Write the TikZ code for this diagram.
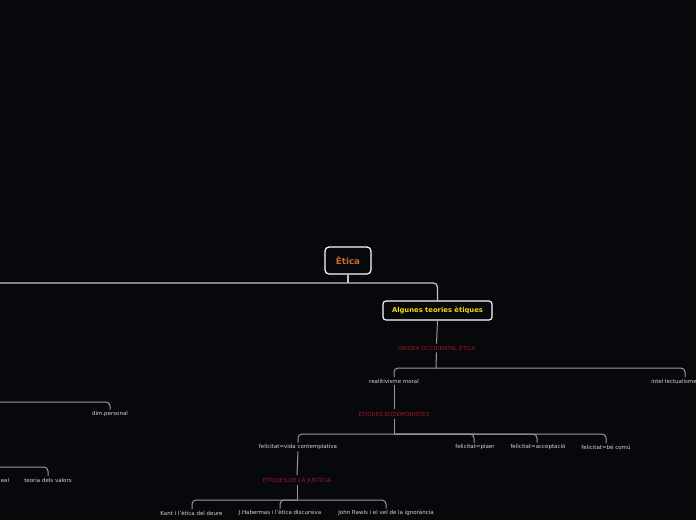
\documentclass[tikz,border=0pt]{standalone}
\usepackage{fontspec}
\setmainfont{DejaVu Sans}
\definecolor{bg}{HTML}{07080B}
\definecolor{rootorange}{HTML}{CF6A2C}
\definecolor{mainyellow}{HTML}{F2D813}
\definecolor{redlbl}{HTML}{A3172B}
\definecolor{lbl}{HTML}{D6D6D6}
\definecolor{mainline}{HTML}{C4C4C4}
\definecolor{subline}{HTML}{9A9A9A}
\tikzset{
  rootbox/.style={draw=white, line width=1.2pt, rounded corners=4pt, fill=bg,
    minimum width=46pt, minimum height=27pt, inner sep=0pt,
    text=rootorange, font=\fontsize{8.7}{10}\selectfont\bfseries},
  mainbox/.style={draw=white, line width=1.1pt, rounded corners=3pt, fill=bg,
    minimum width=109pt, minimum height=19pt, inner sep=0pt,
    text=mainyellow, font=\fontsize{6.8}{8}\selectfont\bfseries},
  redtxt/.style={text=redlbl, font=\fontsize{5.6}{7}\selectfont, inner sep=1.5pt},
  leaf/.style={text=lbl, font=\fontsize{5.5}{7}\selectfont, inner sep=1.5pt},
  mainconn/.style={draw=mainline, line width=1.2pt, rounded corners=4pt},
  subconn/.style={draw=subline, line width=1pt, rounded corners=4pt},
}
\begin{document}
\begin{tikzpicture}[x=1pt, y=-1pt]
\useasboundingbox[fill=bg] (0,0) rectangle (696,520);

% nodes
\node[rootbox] (root) at (348,260.5) {Ètica};
\node[mainbox] (alg) at (437.5,310.5) {Algunes teories ètiques};
\node[redtxt] (origen) at (436.5,348) {ORIGEN OCCIDENTAL ÈTICA};
\node[leaf] (realit) at (394,381) {realitivisme moral};
\node[leaf] (intel) at (674,381) {intel·lectualisme};
\node[redtxt] (eud) at (394,414) {ÈTIQUES EUDEMONISTES};
\node[leaf] (vida) at (298,447) {felicitat=vida contemplativa};
\node[leaf] (plaer) at (475,447) {felicitat=plaer};
\node[leaf] (accept) at (538,447) {felicitat=acceptació};
\node[leaf] (bec) at (606,447) {felicitat=bé comú};
\node[redtxt] (just) at (297,480) {ÈTIQUES DE LA JUSTÍCIA};
\node[leaf] (kant) at (191.5,513) {Kant i l'ètica del deure};
\node[leaf] (haber) at (280,513) {J.Habermas i l'ètica discursiva};
\node[leaf] (rawls) at (386,513) {John Rawls i el vel de la ignorància};
\node[leaf] (dim) at (110,414) {dim.personal};
\node[leaf] (teoria) at (48,480) {teoria dels valors};
\node[leaf, anchor=west, inner sep=0pt] (eal) at (0.6,480) {eal};

% coordinates
\coordinate (b0) at (348,283);
\coordinate (l0) at (0,283);
\coordinate (b1) at (436,368);
\coordinate (b2) at (394,434);
\coordinate (b3) at (297,500);
\coordinate (ldim) at (0,402);
\coordinate (lteo) at (0,467);

% connectors
\draw[mainconn] (root.south) -- (b0);
\draw[mainconn] (l0) -- (b0) -| (alg.north);
\draw[subconn] (alg.south) -- (origen.north);
\draw[subconn] (origen.south) -- (b1);
\draw[subconn] (b1) -| (realit.north);
\draw[subconn] (b1) -| ([xshift=11pt]intel.north);
\draw[subconn] (realit.south) -- (eud.north);
\draw[subconn] (eud.south) -- (b2);
\draw[subconn] (b2) -| (vida.north);
\draw[subconn] (b2) -| ([xshift=-1pt]plaer.north);
\draw[subconn] (b2) -| ([xshift=-1pt]accept.north);
\draw[subconn] (b2) -| (bec.north);
\draw[subconn] (vida.south) -- (just.north);
\draw[subconn] (just.south) -- (b3);
\draw[subconn] (b3) -| ([xshift=0.5pt]kant.north);
\draw[subconn] (b3) -| (haber.north);
\draw[subconn] (b3) -| (rawls.north);
\draw[subconn] (ldim) -| (dim.north);
\draw[subconn] (lteo) -| (teoria.north);
\end{tikzpicture}
\end{document}
